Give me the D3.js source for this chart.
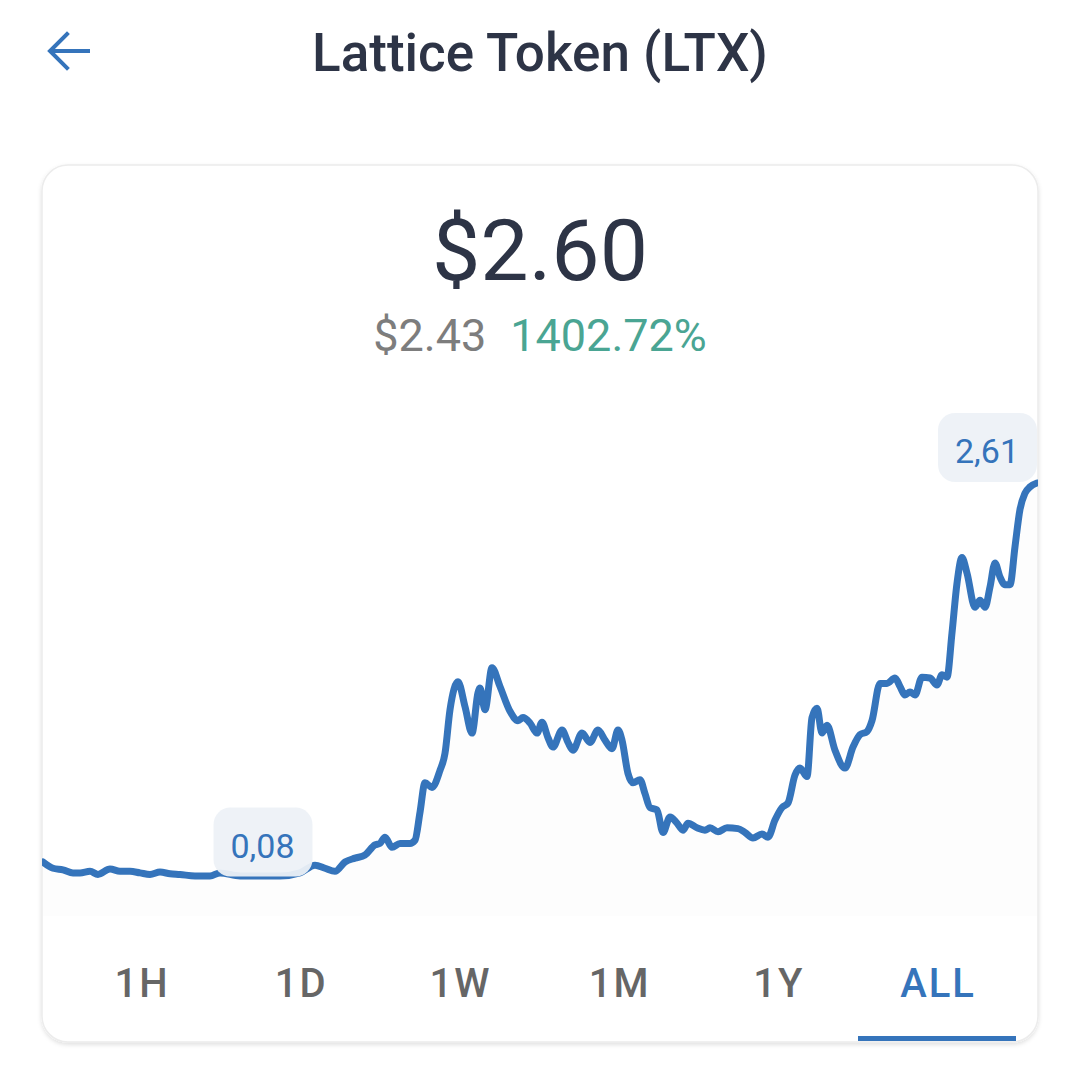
<!DOCTYPE html>
<html>
<head>
<meta charset="utf-8">
<script src="https://cdn.jsdelivr.net/npm/d3@7"></script>
<style>
  html, body { margin: 0; padding: 0; background: #ffffff; }
  svg { display: block; font-family: Roboto, "Noto Sans", sans-serif; }
</style>
</head>
<body>
<svg id="chart" width="1080" height="1080"></svg>
<script>
// ---- Data ----
const title = "Lattice Token (LTX)";
const currentPrice = "$2.60";
const startPrice = "$2.43";
const changePct = "1402.72%";
const ranges = ["1H", "1D", "1W", "1M", "1Y", "ALL"];
const activeRange = "ALL";
const minLabel = "0,08";
const maxLabel = "2,61";

// days since listing
const days = [1, 11, 21, 31, 38, 48, 56, 68, 78, 88, 98, 108, 118, 128, 138, 153, 168, 178, 198, 218, 238,
  258, 273, 283, 293, 303, 313, 323, 333, 338, 343, 350, 358, 368, 373, 378, 383, 390, 398, 403, 408,
  416, 423, 430, 436, 438, 443, 450, 458, 468, 476, 481, 488, 495, 500, 506, 511, 520, 526, 531, 540,
  548, 556, 563, 570, 576, 580, 586, 591, 598, 603, 608, 615, 621, 628, 635, 641, 646, 655, 663, 668,
  676, 685, 696, 703, 711, 720, 726, 733, 740, 746, 753, 758, 765, 770, 775, 780, 785, 793, 803, 811,
  818, 825, 830, 838, 845, 853, 858, 863, 868, 873, 880, 888, 895, 900, 905, 910, 915, 920, 925, 933,
  938, 943, 948, 953, 958, 963, 968, 973, 978, 983, 988, 995];
const prices = [0.17, 0.13, 0.12, 0.10, 0.10, 0.11, 0.09, 0.125, 0.11, 0.11, 0.10, 0.09, 0.105, 0.095, 0.09, 0.08, 0.08, 0.10, 0.08, 0.08, 0.08,
  0.10, 0.15, 0.13, 0.11, 0.17, 0.195, 0.215, 0.28, 0.29, 0.33, 0.265, 0.29, 0.29, 0.31, 0.49, 0.68, 0.65, 0.76, 0.87, 1.15,
  1.33, 1.17, 1.00, 1.26, 1.29, 1.15, 1.42, 1.30, 1.14, 1.08, 1.10, 1.065, 1.00, 1.07, 0.97, 0.91, 1.02, 0.94, 0.89, 1.00,
  0.94, 1.02, 0.955, 0.90, 1.02, 0.955, 0.74, 0.68, 0.70, 0.61, 0.52, 0.505, 0.36, 0.46, 0.42, 0.375, 0.42, 0.39, 0.375, 0.39,
  0.365, 0.39, 0.385, 0.36, 0.325, 0.35, 0.33, 0.44, 0.52, 0.55, 0.73, 0.775, 0.72, 1.10, 1.16, 1.00, 1.05, 0.89, 0.775, 0.91,
  0.99, 1.01, 1.08, 1.32, 1.32, 1.355, 1.30, 1.245, 1.265, 1.245, 1.36, 1.355, 1.31, 1.375, 1.36, 1.645, 1.965, 2.13, 2.03, 1.81,
  1.855, 1.81, 1.94, 2.095, 2.005, 1.955, 1.955, 2.20, 2.44, 2.545, 2.585, 2.61];

const series = days.map((d, i) => ({ d, p: prices[i] }));

// ---- Styles ----
const blue = "#3574bb";
const dark = "#2d3446";
const svg = d3.select("#chart");

// back arrow
const arrow = svg.append("g").attr("fill", "none").attr("stroke", blue)
  .attr("stroke-width", 4).attr("stroke-linecap", "square");
arrow.append("line").attr("x1", 51).attr("y1", 51).attr("x2", 88).attr("y2", 51);
arrow.append("polyline").attr("points", "67,34 50,51 67,68");

// title
svg.append("text").attr("x", 540).attr("y", 71).attr("text-anchor", "middle")
  .attr("font-size", 53).attr("font-weight", 500).attr("fill", dark).text(title);

// card
const defs = svg.append("defs");
const f = defs.append("filter").attr("id", "shadow").attr("x", "-5%").attr("y", "-5%").attr("width", "110%").attr("height", "112%");
f.append("feDropShadow").attr("dx", 0).attr("dy", 2).attr("stdDeviation", 2).attr("flood-color", "#000").attr("flood-opacity", 0.12);
svg.append("rect").attr("x", 42).attr("y", 165).attr("width", 996).attr("height", 877)
  .attr("rx", 26).attr("fill", "#fff").attr("stroke", "#ececec").attr("stroke-width", 1.5)
  .attr("filter", "url(#shadow)");

defs.append("clipPath").attr("id", "cardclip").append("rect")
  .attr("x", 42).attr("y", 165).attr("width", 996).attr("height", 877).attr("rx", 26);

// price texts
svg.append("text").attr("x", 540).attr("y", 280).attr("text-anchor", "middle")
  .attr("font-size", 86).attr("font-weight", 400).attr("fill", dark).text(currentPrice);
const sub = svg.append("text").attr("x", 540).attr("y", 351).attr("text-anchor", "middle")
  .attr("font-size", 45).attr("font-weight", 400);
sub.append("tspan").attr("fill", "#7d7d7d").text(startPrice);
sub.append("tspan").attr("dx", 24).attr("fill", "#4aa593").text(changePct);

// ---- Scales ----
const x = d3.scaleLinear().domain([0, 995]).range([42, 1037]);
const y = d3.scaleLinear().domain([0.08, 2.61]).range([876, 483]);

const plot = svg.append("g").attr("clip-path", "url(#cardclip)");

const area = d3.area().x(d => x(d.d)).y0(916).y1(d => y(d.p)).curve(d3.curveMonotoneX);
plot.append("path").datum(series).attr("d", area).attr("fill", "#fdfdfd");

const line = d3.line().x(d => x(d.d)).y(d => y(d.p)).curve(d3.curveMonotoneX);
plot.append("path").datum(series).attr("d", line).attr("fill", "none")
  .attr("stroke", blue).attr("stroke-width", 7).attr("stroke-linejoin", "round").attr("stroke-linecap", "round");

// min / max badges
function badge(cx, cy, label) {
  const g = svg.append("g");
  g.append("rect").attr("x", cx - 49).attr("y", cy - 35).attr("width", 99).attr("height", 69)
    .attr("rx", 17).attr("fill", "#edf1f7").attr("fill-opacity", 0.94);
  g.append("text").attr("x", cx).attr("y", cy + 15).attr("text-anchor", "middle")
    .attr("font-size", 34).attr("fill", blue).text(label);
}
badge(262.5, 842.5, minLabel);
badge(987, 448, maxLabel);

// range tabs
const tabX = d3.scalePoint().domain(ranges).range([142, 938]);
svg.append("g").selectAll("text").data(ranges).join("text")
  .attr("x", d => tabX(d)).attr("y", 997).attr("text-anchor", "middle")
  .attr("font-size", 40).attr("font-weight", 500).attr("letter-spacing", 2)
  .attr("fill", d => d === activeRange ? blue : "#666666").text(d => d);
svg.append("rect").attr("x", tabX(activeRange) - 80).attr("y", 1036).attr("width", 158).attr("height", 5)
  .attr("fill", blue);
</script>
</body>
</html>
